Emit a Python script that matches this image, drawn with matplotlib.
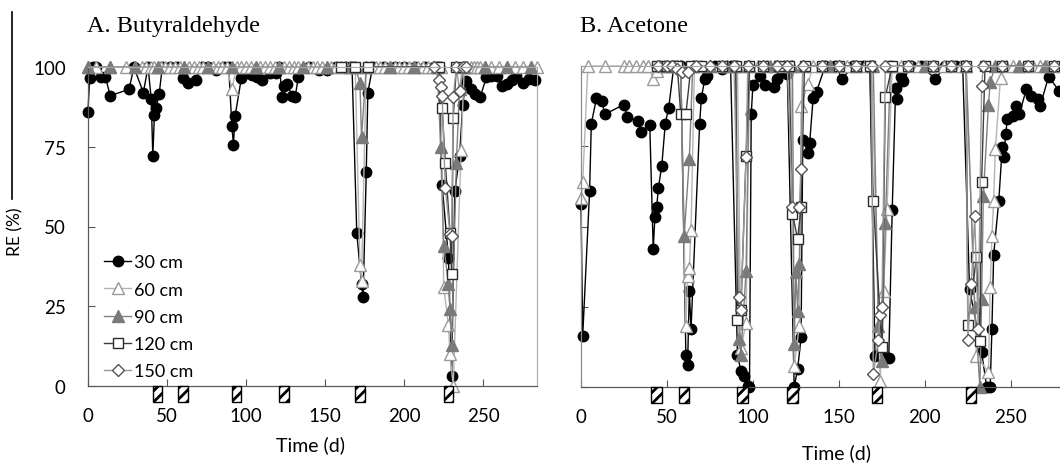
import matplotlib
matplotlib.use('Agg')
import matplotlib.pyplot as plt
import matplotlib.transforms as mtransforms
from matplotlib.patches import Rectangle
from matplotlib.lines import Line2D

plt.rcParams['font.family'] = ['Lato', 'DejaVu Sans']
plt.rcParams['hatch.linewidth'] = 2.0

# ---------------- A. Butyraldehyde ----------------
A_30_days = [0, 1, 3, 5, 8, 11, 14, 26, 29, 35, 38, 40, 41, 42, 43, 45, 47, 52, 56, 60,
             63, 68, 72, 76, 81, 86, 89, 91, 92, 93, 97, 100, 104, 107, 110, 115, 119, 121, 123, 124,
             126, 129, 131, 133, 140, 146, 151, 157, 163, 167, 170, 173, 174, 176, 177, 180, 187, 194, 200, 207,
             213, 219, 222, 224, 228, 230, 232, 235, 237, 239, 242, 245, 248, 252, 255, 259, 262, 265, 268, 271,
             275, 279, 283]
A_30_re = [86, 96.5, 100, 100, 97, 97, 91, 93, 100, 92, 100, 90, 72, 85, 87, 91.5, 100, 100, 100, 96.5,
           95, 96, 100, 100, 99, 100, 100, 81.6, 75.6, 84.5, 96.5, 98, 97.5, 97, 96, 98, 98, 100, 90.5, 94,
           94.7, 91, 90.5, 96.8, 100, 99, 99, 100, 100, 100, 48, 32, 28, 67, 92, 100, 100, 100, 100, 100,
           100, 100, 100, 63, 40, 3, 61, 72, 88, 95.7, 93, 91.5, 90.5, 96.8, 97.3, 97.3, 94, 94.7, 96, 97.3,
           95, 96.2, 96]

A_60_days = [0, 5, 14, 24, 30, 34, 37, 40, 42, 44, 46, 49, 52, 55, 58, 61, 64, 67, 70, 73,
             76, 79, 82, 85, 88, 91, 94, 97, 100, 103, 106, 109, 112, 115, 118, 121, 124, 127, 130, 133,
             136, 139, 142, 145, 148, 151, 154, 157, 160, 163, 166, 169, 172, 173, 176, 179, 182, 185, 188, 191,
             194, 197, 200, 203, 206, 209, 212, 215, 218, 221, 223, 225, 228, 229, 231, 236, 238, 240, 242, 244,
             246, 248, 251, 255, 260, 265, 270, 275, 280, 284]
A_60_re = [100, 100, 100, 100, 100, 100, 100, 100, 100, 100, 100, 100, 100, 100, 100, 100, 100, 100, 100, 100,
           100, 100, 100, 100, 100, 93, 100, 100, 100, 100, 100, 100, 100, 100, 100, 100, 100, 100, 100, 100,
           100, 100, 100, 100, 100, 100, 100, 100, 100, 100, 100, 100, 38, 33, 100, 100, 100, 100, 100, 100,
           100, 100, 100, 100, 100, 100, 100, 100, 100, 100, 100, 31, 19, 10, 0, 74, 100, 100, 100, 100,
           100, 100, 100, 100, 100, 100, 100, 100, 100, 100]

A_90_days = [0, 14, 30, 44, 61, 76, 91, 106, 121, 136, 151, 166, 169, 172, 173, 176, 191, 206, 221, 223,
             225, 228, 229, 230, 233, 235, 238, 251, 265, 280]
A_90_re = [100, 100, 100, 100, 100, 100, 100, 100, 100, 100, 100, 100, 100, 95, 78, 100, 100, 100, 100, 75,
           44, 32, 24, 13, 70, 93, 100, 100, 100, 100]

A_120_days = [160, 169, 177, 222, 224, 226, 229, 230, 231, 233]
A_120_re = [100, 100, 100, 100, 87, 70, 48, 35, 84, 100]

A_150_days = [219, 222, 223, 224, 226, 229, 230, 231, 233, 235, 237, 239]
A_150_re = [100, 96, 93.6, 91, 62, 47.6, 47, 90.5, 100, 92.6, 100, 100]

A_shock_days = [44, 60, 94, 124, 172, 228]

# ---------------- B. Acetone ----------------
B_30_days = [0, 1, 5, 6, 9, 12, 14, 25, 27, 33, 35, 40, 42, 43, 44, 45, 47, 49, 51, 54,
             58, 61, 62, 63, 64, 69, 70, 72, 73, 78, 82, 87, 91, 93, 95, 97, 98, 99, 100, 104,
             107, 112, 114, 117, 120, 124, 126, 128, 129, 132, 133, 135, 137, 142, 148, 152, 158, 164, 168, 171,
             177, 179, 181, 183, 184, 186, 187, 192, 198, 206, 212, 218, 222, 226, 233, 236, 238, 239, 240, 243,
             245, 246, 247, 248, 251, 253, 255, 259, 262, 266, 267, 272, 278, 283]
B_30_re = [57, 16, 61, 82, 90, 89, 85, 88, 84, 83, 79.4, 81.6, 43, 53, 56, 62, 69, 82, 87, 100,
           100, 10, 7, 30, 18, 82, 90, 96, 97, 100, 99, 100, 10, 5, 3.5, 0.4, 0, 85, 94, 97,
           94, 93.5, 96, 98, 97.5, 0, 5.6, 15.5, 77, 73, 76, 90, 92, 100, 100, 96, 100, 100, 100, 9.8,
           9.2, 9, 55, 93, 89.7, 96.5, 95.3, 100, 100, 96, 100, 100, 100, 30.5, 10.8, 0, 0, 18, 41, 58,
           74.7, 71.6, 78.8, 83.5, 84.5, 87.6, 85, 92.8, 90.8, 89.7, 87.5, 96.7, 92.3, 95]

B_60_days = [0, 1, 4, 14, 25, 28, 32, 36, 39, 42, 44, 46, 48, 50, 53, 56, 58, 61, 62, 63,
             64, 66, 70, 75, 80, 85, 89, 91, 93, 96, 98, 103, 108, 113, 118, 122, 124, 127, 128, 132,
             135, 140, 145, 150, 155, 160, 165, 169, 174, 176, 178, 181, 186, 191, 196, 201, 206, 211, 216, 221,
             224, 230, 237, 238, 239, 240, 241, 244, 247, 251, 255, 259, 263, 267, 271, 275, 279, 283]
B_60_re = [59, 64, 100, 100, 100, 100, 100, 100, 100, 96, 98.5, 100, 100, 100, 100, 100, 100, 19, 34.5, 37,
           49, 100, 100, 100, 100, 100, 100, 100, 12, 20, 100, 100, 100, 100, 100, 100, 6.6, 19, 87.6, 94.4,
           100, 100, 100, 100, 100, 100, 100, 100, 2, 30, 55.5, 100, 100, 100, 100, 100, 100, 100, 100, 100,
           100, 9.8, 4.6, 31, 47, 58, 74, 96.4, 100, 100, 100, 100, 100, 100, 100, 100, 100, 100]

B_90_days = [50, 56, 58, 60, 63, 65, 75, 85, 90, 92, 93, 96, 98, 110, 123, 124, 125,
             126, 127, 129, 145, 160, 170, 173, 175, 177, 180, 200, 224, 229, 232, 233, 234, 237, 238, 241, 255,
             270, 283]
B_90_re = [100, 100, 100, 47, 71, 100, 100, 100, 100, 15, 10, 36, 100, 100, 100, 13.4, 35.7,
           23.8, 38.3, 100, 100, 100, 100, 19, 8, 51, 100, 100, 100, 25, 0, 27.4, 59.6, 88, 95, 100, 100,
           100, 100]

B_120_days = [44, 50, 56, 58, 61, 64, 70, 82, 90, 91, 93, 96, 98, 106, 115, 121, 123, 126, 128, 130,
              140, 150, 160, 168, 170, 175, 177, 181, 190, 205, 215, 224, 225, 230, 232, 233, 235, 245, 260, 275]
B_120_re = [100, 100, 100, 85, 85, 100, 100, 100, 100, 21, 24, 72, 100, 100, 100, 100, 54, 46, 56, 100,
            100, 100, 100, 100, 58, 12.4, 90.4, 100, 100, 100, 100, 100, 19.4, 40.4, 14.2, 63.8, 100, 100, 100, 100]

B_150_days = [45, 50, 53, 56, 59, 62, 67, 75, 82, 89, 92, 93, 96, 97, 106, 114, 120, 123, 127, 128,
              129, 140, 150, 160, 169, 170, 173, 174, 175, 177, 190, 205, 215, 224, 225, 227, 229, 231, 233, 234,
              245, 260, 275]
B_150_re = [100, 100, 100, 99, 98, 98, 100, 100, 100, 100, 28, 24, 71.5, 100, 100, 100, 100, 56, 56, 68,
            100, 100, 100, 100, 100, 4, 14.7, 22.4, 24.8, 100, 100, 100, 100, 100, 14.6, 32, 53.2, 18, 93.7, 100,
            100, 100, 100]

B_shock_days = [44, 60, 94, 123, 172, 227]

labels = ['30 cm', '60 cm', '90 cm', '120 cm', '150 cm']
styles = [
    dict(color='black', marker='o', ms=7.5, mfc='black', mec='black'),
    dict(color='#b4b4b4', marker='^', ms=8, mfc='white', mec='#9a9a9a'),
    dict(color='#808080', marker='^', ms=8, mfc='#7a7a7a', mec='#7a7a7a'),
    dict(color='#3c3c3c', marker='s', ms=7.5, mfc='white', mec='#2a2a2a'),
    dict(color='#999999', marker='D', ms=6.5, mfc='white', mec='#555555'),
]

fig = plt.figure(figsize=(10.6, 4.64), dpi=100)
axA = fig.add_axes([88 / 1060, 77 / 464, 449 / 1060, 319 / 464])
axB = fig.add_axes([581 / 1060, 76 / 464, 490 / 1060, 321 / 464])


def setup(ax, xmax, show_ylabels):
    ax.set_xlim(0, xmax)
    ax.set_ylim(0, 100)
    ax.set_xticks([0, 50, 100, 150, 200, 250])
    ax.set_yticks([0, 25, 50, 75, 100])
    ax.tick_params(axis='both', direction='in', length=5, width=0.8, color='#555555',
                   labelsize=13.5, labelcolor='black')
    ax.tick_params(axis='x', pad=15)
    ax.tick_params(axis='y', pad=16, labelleft=show_ylabels)
    for side in ['top', 'right']:
        ax.spines[side].set_color('#a6a6a6')
        ax.spines[side].set_linewidth(0.8)
    for side in ['left', 'bottom']:
        ax.spines[side].set_color('#595959')
        ax.spines[side].set_linewidth(0.9)


def shocks(ax, days):
    trans = mtransforms.blended_transform_factory(ax.transData, ax.transAxes)
    for d in days:
        ax.add_patch(Rectangle((d - 3, -0.05), 6, 0.05, transform=trans, facecolor='white',
                               edgecolor='black', hatch='///', lw=1, clip_on=False, zorder=5))


setup(axA, 284, True)
setup(axB, 285, False)
axB.spines['left'].set_color('#8c8c8c')

seriesA = [(A_30_days, A_30_re), (A_60_days, A_60_re), (A_90_days, A_90_re),
           (A_120_days, A_120_re), (A_150_days, A_150_re)]
seriesB = [(B_30_days, B_30_re), (B_60_days, B_60_re), (B_90_days, B_90_re),
           (B_120_days, B_120_re), (B_150_days, B_150_re)]

for (d, r), lab, st in zip(seriesA, labels, styles):
    axA.plot(d, r, lw=1, label=lab, clip_on=False, **st)
for (d, r), lab, st in zip(seriesB, labels, styles):
    axB.plot(d, r, lw=1, label=lab, clip_on=False, **st)

shocks(axA, A_shock_days)
shocks(axB, B_shock_days)

axA.legend(loc='upper left', bbox_to_anchor=(0.02, 0.435), frameon=False, fontsize=13,
           handlelength=1.5, handletextpad=0.15, labelspacing=0.62, borderaxespad=0)

fig.text(87 / 1060, 1 - 32 / 464, 'A. Butyraldehyde', family='Liberation Serif', fontsize=17.5, va='baseline')
fig.text(580 / 1060, 1 - 32 / 464, 'B. Acetone', family='Liberation Serif', fontsize=17.5, va='baseline')
fig.text(310 / 1060, 1 - 445 / 464, 'Time (d)', ha='center', va='center', fontsize=14)
fig.text(837 / 1060, 1 - 453 / 464, 'Time (d)', ha='center', va='center', fontsize=14)
fig.text(15 / 1060, 1 - 232 / 464, 'RE (%)', rotation=90, ha='center', va='center', fontsize=12.5)
fig.add_artist(Line2D([12 / 1060, 12 / 1060], [1 - 13 / 464, 1 - 200 / 464], color='black', lw=1.2))

fig.savefig('out.png', dpi=100)
